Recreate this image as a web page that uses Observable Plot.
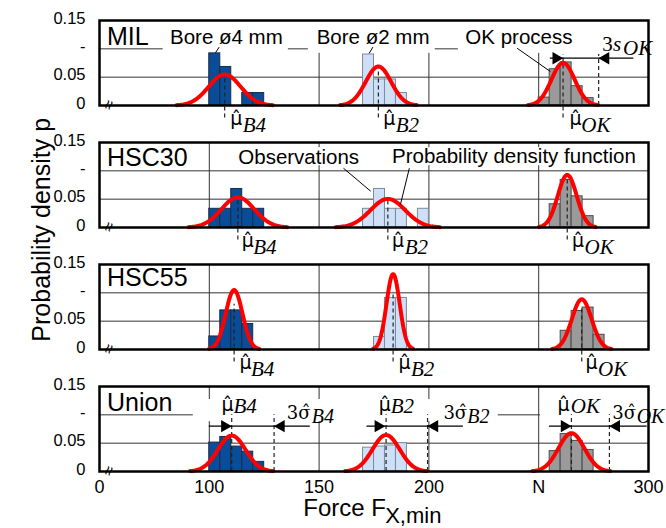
<!DOCTYPE html>
<html><head><meta charset="utf-8">
<script src="https://cdn.jsdelivr.net/npm/d3@7"></script>
<script src="https://cdn.jsdelivr.net/npm/@observablehq/plot@0.6"></script>
<style>
body{margin:0;background:#fff;}
#chart{position:relative;width:666px;height:528px;}
</style></head><body><div id="chart"></div>
<script>
// ---------- data ----------
const panels = ["MIL", "HSC30", "HSC55", "Union"];
const groups = ["B4", "B2", "OK"];
const binWidth = 5;
const binStart = [[100, 170, 250], [100, 170, 255], [100, 175, 260], [100, 170, 255]];
const milB4 = [0.092, 0.068, 0, 0.022, 0.022];
const milB2 = [0.090, 0.046, 0.046, 0.022];
const milOK = [0.014, 0.064, 0.076, 0.034, 0.013];
const hsc30B4 = [0.033, 0.033, 0.068, 0.033, 0.033];
const hsc30B2 = [0.033, 0.068, 0.033, 0.033, 0, 0.033];
const hsc30OK = [0.041, 0.084, 0.055, 0.020];
const hsc55B4 = [0.023, 0.069, 0.069, 0.045];
const hsc55B2 = [0.022, 0.091, 0.091];
const hsc55OK = [0.033, 0.068, 0.074, 0.026];
const unionB4 = [0.051, 0.061, 0.044, 0.035, 0.017];
const unionB2 = [0.042, 0.044, 0.046, 0.050];
const unionOK = [0.036, 0.066, 0.054, 0.038];
const densities = [[milB4, milB2, milOK], [hsc30B4, hsc30B2, hsc30OK], [hsc55B4, hsc55B2, hsc55OK], [unionB4, unionB2, unionOK]];
// normal pdf parameters (estimated mean and sigma)
const means = [[107, 177, 261.1], [113, 181.3, 263], [111.3, 183.7, 269.6], [110.2, 180.5, 264.9]];
const sigmas = [[7.3, 5.8, 5.3], [7.5, 7.9, 4.3], [3.8, 3.0, 4.5], [6.3, 6.2, 5.9]];
const meanLineTop = [[0.054, 0.068, 0.09], [0.052, 0.05, 0.092], [0.08, 0.102, 0.076], [0.1, 0.1, 0.1]];
const meanLineBottom = [-0.022, -0.022, -0.022, 0];
// mean labels
const muX = [[109.5, 179.2, 264], [114.8, 183.2, 265.2], [113.7, 186.2, 271.3], [105.5, 177.2, 258.6]];
const subX = [[115.2, 184.9, 269.4], [120, 189, 270.9], [119, 191.8, 277], [111, 182.6, 264.6]];
const muY = [-0.035, -0.035, -0.035, 0.1076];
const subY = [-0.046, -0.046, -0.046, 0.104];
// 3 sigma labels (Union)
const sigGroups = ["B4", "B2", "OK"];
const sigX = [135.3, 206.6, 283.5];
const sigSubX = [146.7, 217.5, 294.6];
// arrows
const arrowPanel = ["MIL", "Union", "Union", "Union"];
const arrowY = [0.0835, 0.08, 0.08, 0.08];
const arrowX1 = [255.3, 100, 171.8, 254.9];
const arrowX2 = [293.3, 146, 215.7, 299.4];
const arrowMeanTip = [261.1, 110.2, 180.1, 264.9];
const arrowSigmaTip = [277.3, 129.5, 199.4, 282.2];
const sigmaLineTop = [0.09, 0.10, 0.10, 0.10];
// annotations
const panelLabelY = [0.107, 0.109, 0.112, 0.1076];
const noteText = ["Bore ø4 mm", "Bore ø2 mm", "OK process", "Observations", "Probability density function"];
const notePanel = ["MIL", "MIL", "MIL", "HSC30", "HSC30"];
const noteX = [82.1, 148.9, 216.6, 113.2, 183.2];
const noteY = [0.109, 0.109, 0.109, 0.112, 0.114];
const leaderX1 = [104.5, 174.5, 240.2, 161.1, 191.1];
const leaderY1 = [0.103, 0.103, 0.101, 0.1046, 0.1046];
const leaderX2 = [102.8, 172.8, 255.3, 173.5, 187];
const leaderY2 = [0.093, 0.092, 0.06, 0.064, 0.040];
const boxPanel = ["MIL", "MIL", "MIL", "HSC30", "HSC30", "Union", "Union"];
const boxX1 = [79, 145.1, 213.4, 112.2, 182, 92.7, 250.8];
const boxX2 = [136, 202.9, 299.5, 169.2, 296.4, 231.6, 299.5];
const boxY1 = [0.092, 0.092, 0.092, 0.109, 0.109, 0.088, 0.088];
const boxY2 = [0.15, 0.15, 0.15, 0.141, 0.141, 0.127, 0.127];
const xTicks = [50, 100, 150, 200, 250, 300];
const xTickLabels = ["0", "100", "150", "200", "N", "300"];
const yTicks = [0, 0.05, 0.1, 0.15];
const yTickLabels = ["0", "0.05", "-", "0.15"];
const fillColors = ["#094c98", "#cde0f7", "#9a9a9a"];
const strokeColors = ["#1c2b48", "#7d8a99", "#4a4a4a"];

// ---------- build tables ----------
const bars = [[], [], []];
panels.forEach((p, i) => groups.forEach((g, j) => densities[i][j].forEach((v, k) => {
  if (v > 0) bars[j].push({panel: p, x1: binStart[i][j] + k * binWidth, x2: binStart[i][j] + (k + 1) * binWidth, y: v});
})));
const curves = [];
panels.forEach((p, i) => groups.forEach((g, j) => {
  const m = means[i][j], s = sigmas[i][j];
  for (let k = 0; k <= 90; k++) {
    const x = m - 3 * s + k * 6 * s / 90, z = (x - m) / s;
    curves.push({panel: p, key: p + g, x, y: Math.exp(-z * z / 2) / (s * Math.sqrt(2 * Math.PI))});
  }
}));
const meanLines = [], muLabels = [], subLabels = [];
panels.forEach((p, i) => groups.forEach((g, j) => {
  meanLines.push({panel: p, x: means[i][j], y1: meanLineBottom[i], y2: meanLineTop[i][j]});
  muLabels.push({panel: p, x: muX[i][j], y: muY[i]});
  subLabels.push({panel: p, x: subX[i][j], y: subY[i], t: g});
}));
const arrows = arrowPanel.map((p, i) => ({panel: p, y: arrowY[i], x1: arrowX1[i], x2: arrowX2[i], tm: arrowMeanTip[i], ts: arrowSigmaTip[i], top: sigmaLineTop[i]}));
const notes = noteText.map((t, i) => ({panel: notePanel[i], t, x: noteX[i], y: noteY[i]}));
const leaders = notePanel.map((p, i) => ({panel: p, x1: leaderX1[i], y1: leaderY1[i], x2: leaderX2[i], y2: leaderY2[i]}));
const boxes = boxPanel.map((p, i) => ({panel: p, x1: boxX1[i], x2: boxX2[i], y1: boxY1[i], y2: boxY2[i]}));
const panelRows = panels.map((p, i) => ({panel: p, y: panelLabelY[i]}));

const SANS = "Liberation Sans, Arial, Helvetica, sans-serif";
const SERIF = "Liberation Serif, Times New Roman, serif";

const chart = Plot.plot({
  width: 666, height: 528,
  marginLeft: 99, marginRight: 18, marginTop: 19, marginBottom: 56,
  style: {fontFamily: SANS, background: "white", overflow: "visible"},
  x: {domain: [50, 300]},
  y: {domain: [0, 0.15]},
  fy: {domain: panels, paddingInner: 0.307, paddingOuter: 0, axis: null, label: null},
  marks: [
    Plot.ruleY([0.05, 0.1], {stroke: "#333", strokeWidth: 1}),
    Plot.ruleX([100, 150, 200, 250], {stroke: "#333", strokeWidth: 1}),
    Plot.rect(boxes, {x1: "x1", x2: "x2", y1: "y1", y2: "y2", fy: "panel", fill: "white"}),
    ...groups.map((g, j) => Plot.rect(bars[j], {x1: "x1", x2: "x2", y1: 0, y2: "y", fy: "panel", fill: fillColors[j], stroke: strokeColors[j], strokeWidth: 1})),
    Plot.ruleX(meanLines, {x: "x", y1: "y1", y2: "y2", fy: "panel", stroke: "#222", strokeWidth: 1.2, strokeDasharray: "4,3"}),
    Plot.ruleX(arrows, {x: "ts", y1: 0, y2: "top", fy: "panel", stroke: "#222", strokeWidth: 1.2, strokeDasharray: "4,3"}),
    Plot.ruleY(arrows, {y: "y", x1: "x1", x2: "x2", fy: "panel", stroke: "black", strokeWidth: 1.2}),
    Plot.dot(arrows, {x: "tm", y: "y", fy: "panel", symbol: "triangle", r: 4.6, rotate: 90, dx: -7, fill: "black", stroke: "none"}),
    Plot.dot(arrows, {x: "ts", y: "y", fy: "panel", symbol: "triangle", r: 4.6, rotate: -90, dx: 7, fill: "black", stroke: "none"}),
    Plot.line(curves, {x: "x", y: "y", z: "key", fy: "panel", stroke: "#ff0000", strokeWidth: 4, curve: "linear"}),
    Plot.link(leaders, {x1: "x1", y1: "y1", x2: "x2", y2: "y2", fy: "panel", stroke: "black", strokeWidth: 1}),
    Plot.text(panelRows, {x: () => 53.4, y: "y", fy: "panel", text: "panel", textAnchor: "start", lineAnchor: "bottom", fontSize: 25, fill: "black"}),
    Plot.text(notes, {x: "x", y: "y", fy: "panel", text: "t", textAnchor: "start", lineAnchor: "bottom", fontSize: 20.5, fill: "black"}),
    Plot.text(muLabels, {x: "x", y: "y", fy: "panel", text: () => "\u03BC\u0302", textAnchor: "start", lineAnchor: "bottom", fontSize: 19, fontFamily: "DejaVu Sans", fill: "black"}),
    Plot.text(subLabels, {x: "x", y: "y", fy: "panel", text: "t", textAnchor: "start", lineAnchor: "bottom", fontSize: 21, fontFamily: SERIF, fontStyle: "italic", fill: "black"}),
    Plot.text(sigGroups, {x: (d, i) => sigX[i], y: () => 0.0935, fy: () => "Union", text: () => "3\u03C3\u0302", textAnchor: "start", lineAnchor: "bottom", fontSize: 18, fontFamily: "DejaVu Serif", fill: "black"}),
    Plot.text(sigGroups, {x: (d, i) => sigSubX[i], y: () => 0.0855, fy: () => "Union", text: d => d, textAnchor: "start", lineAnchor: "bottom", fontSize: 20, fontFamily: SERIF, fontStyle: "italic", fill: "black"}),
    Plot.text(["3"], {x: () => 278.9, y: () => 0.097, fy: () => "MIL", text: d => d, textAnchor: "start", lineAnchor: "bottom", fontSize: 21, fontFamily: SERIF, fill: "black"}),
    Plot.text(["s"], {x: () => 283.8, y: () => 0.097, fy: () => "MIL", text: d => d, textAnchor: "start", lineAnchor: "bottom", fontSize: 21, fontFamily: SERIF, fontStyle: "italic", fill: "black"}),
    Plot.text(["OK"], {x: () => 288.4, y: () => 0.089, fy: () => "MIL", text: d => d, textAnchor: "start", lineAnchor: "bottom", fontSize: 21, fontFamily: SERIF, fontStyle: "italic", fill: "black"}),
    Plot.text(panels, {x: () => 54.3, y: () => 0.001, fy: d => d, text: () => "\u2248", rotate: -70, fontSize: 17, fill: "black"}),
    Plot.frame({stroke: "black", strokeWidth: 2.5}),
    Plot.axisX({ticks: xTicks, tickFormat: d => xTickLabels[xTicks.indexOf(d)], tickSize: 0, tickPadding: 9, fontSize: 18, label: null}),
    Plot.axisY({ticks: yTicks, tickFormat: d => yTickLabels[yTicks.indexOf(d)], tickSize: 0, tickPadding: 14, fontSize: 16.5, label: null, dy: -2}),
    Plot.text(["Force F"], {x: () => 142.8, y: () => -0.079, fy: () => "Union", text: d => d, textAnchor: "start", lineAnchor: "bottom", fontSize: 24, fill: "black"}),
    Plot.text(["X,min"], {x: () => 180.1, y: () => -0.09, fy: () => "Union", text: d => d, textAnchor: "start", lineAnchor: "bottom", fontSize: 22, fill: "black"}),
    Plot.text(["Probability density p"], {x: () => 27.4, y: () => -0.004, fy: () => "HSC30", text: d => d, rotate: -90, textAnchor: "middle", lineAnchor: "bottom", fontSize: 25, fill: "black"})
  ]
});
document.getElementById("chart").appendChild(chart);
</script></body></html>
